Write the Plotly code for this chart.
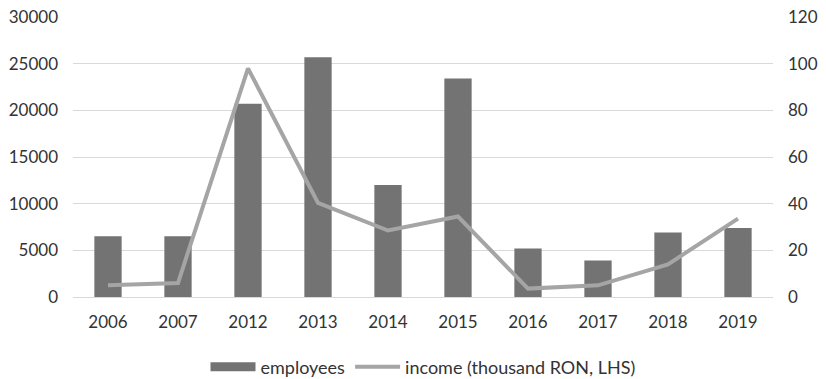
import plotly.graph_objects as go

years = ["2006", "2007", "2012", "2013", "2014", "2015", "2016", "2017", "2018", "2019"]
employees = [6500, 6500, 20700, 25700, 12000, 23400, 5200, 3900, 6900, 7400]
income = [5, 6, 98, 40.3, 28.5, 34.5, 3.6, 5, 14, 33.6]

BAR_COLOR = "#737373"
LINE_COLOR = "#a5a5a5"

fig = go.Figure()
fig.add_trace(go.Bar(x=years, y=employees, name="employees", showlegend=False,
                     marker=dict(color=BAR_COLOR, line=dict(width=0)), yaxis="y"))
# legend entry for bars drawn as a wide block (as in the reference)
fig.add_trace(go.Scatter(x=[None], y=[None], name="employees", mode="lines",
                         line=dict(color=BAR_COLOR, width=9), yaxis="y"))
fig.add_trace(go.Scatter(x=years, y=income, name="income (thousand RON, LHS)",
                         mode="lines", line=dict(color=LINE_COLOR, width=4), yaxis="y2"))

font = dict(family="Lato, Open Sans, sans-serif", size=17, color="#333333")
lfont = dict(family="Lato, Open Sans, sans-serif", size=18, color="#333333")
fig.update_layout(
    width=826, height=379,
    margin=dict(l=73, r=53, t=17, b=82, autoexpand=False),
    paper_bgcolor="white", plot_bgcolor="white",
    font=font,
    bargap=0.61,
    showlegend=True,
    legend=dict(orientation="h", x=0.5, xanchor="center", y=-0.25, yanchor="middle",
                font=lfont, itemwidth=45, traceorder="normal"),
    xaxis=dict(type="category", showgrid=False, showline=False, ticks="", tickfont=font,
               automargin=False, ticklabelstandoff=13),
    yaxis=dict(range=[0, 30000], dtick=5000, tickformat="d", showgrid=True,
               gridcolor="#d9d9d9", gridwidth=1,
               zeroline=True, zerolinecolor="#d9d9d9", zerolinewidth=1, showline=False,
               ticks="", tickfont=font, automargin=False, ticklabelstandoff=14),
    yaxis2=dict(range=[0, 120], dtick=20, overlaying="y", side="right", showgrid=False,
                zeroline=False, showline=False, ticks="", tickfont=font,
                automargin=False, ticklabelstandoff=14),
)

fig.write_html("out.html", config={"displayModeBar": False},
               post_script="document.body.style.margin='0';document.body.style.overflow='hidden';")
